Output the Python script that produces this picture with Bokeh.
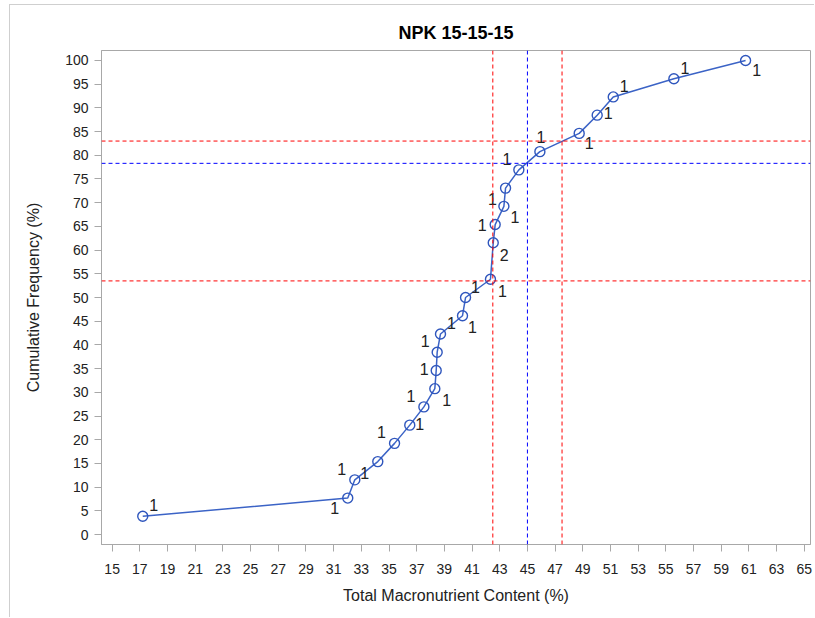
from bokeh.plotting import figure
from bokeh.models import ColumnDataSource, Range1d, FixedTicker, Span, Title
from bokeh.embed import file_html
from bokeh.resources import INLINE
from bokeh.core.properties import value
import numpy as np

# Total macronutrient content (%) of each distinct sample value, and how many samples had it
content = [17.21, 32.02, 32.53, 34.19, 35.40, 36.50, 37.52, 38.31, 38.41, 38.48,
           38.72, 40.31, 40.53, 42.33, 42.53, 42.67, 43.30, 43.42, 44.38, 45.90,
           48.74, 50.04, 51.20, 55.58, 60.76]
counts = [1, 1, 1, 1, 1, 1, 1, 1, 1, 1,
          1, 1, 1, 1, 2, 1, 1, 1, 1, 1,
          1, 1, 1, 1, 1]

# Reference lines
vlines_red = [42.5, 47.5]
vline_blue = [45.0]
hlines_red = [53.5, 83.0]
hline_blue = [78.3]

x_ticks = list(range(15, 66, 2))
y_ticks = list(range(0, 101, 5))

# Where each count label sits around its marker (pixels, right / down)
label_dx = [11, -13, -13, -13, -13, 10, -13, 12, -12, -12,
            11, 10, 10, 12, 11, -13, 11, -13, -12, 1,
            10, 11, 11, 11, 11]
label_dy = [-11, 10, -11, 11, -11, -1, -11, 11, -1, -11,
            -11, 11, -11, 12, 12, 0, 11, 11, -11, -15,
            10, -2, -11, -11, 10]

cum_pct = np.cumsum(counts) / np.sum(counts) * 100.0

src = ColumnDataSource(dict(
    x=content, y=cum_pct, n=[str(c) for c in counts],
    dx=label_dx, dy=label_dy,
))

FONT = "Liberation Sans"
GRID_GREY = "#a8a8a8"

# Canvas sits 10px in from the left and 5px down, framed by a light border
p = figure(width=805, height=613, output_backend="svg", toolbar_location=None,
           x_range=Range1d(14.23, 65.45), y_range=Range1d(-2.1, 102.1),
           min_border_left=91, min_border_right=5, min_border_top=45,
           min_border_bottom=74, title=None)
p.styles = {"margin-left": "9px", "margin-top": "4px",
            "border-left": "1px solid #cfcfcf", "border-top": "1px solid #cfcfcf"}
p.background_fill_color = "white"
p.border_fill_color = "white"
p.outline_line_color = GRID_GREY
p.outline_line_width = 1
p.xgrid.visible = False
p.ygrid.visible = False

p.add_layout(Title(text="NPK 15-15-15", align="center", text_font=FONT,
                   text_font_size="18px", text_font_style="bold",
                   text_color="#000000", standoff=15), "above")

for ax, ticks in ((p.xaxis[0], x_ticks), (p.yaxis[0], y_ticks)):
    ax.ticker = FixedTicker(ticks=ticks)
    ax.minor_tick_line_color = None
    ax.major_tick_in = 0
    ax.major_tick_out = 7
    ax.major_tick_line_color = GRID_GREY
    ax.axis_line_color = GRID_GREY
    ax.major_label_text_font = FONT
    ax.major_label_text_font_size = "14px"
    ax.major_label_text_color = "#222222"
    ax.axis_label_text_font = FONT
    ax.axis_label_text_font_size = "16px"
    ax.axis_label_text_font_style = "normal"
    ax.axis_label_text_color = "#222222"

p.xaxis.axis_label = "Total Macronutrient Content (%)"
p.yaxis.axis_label = "Cumulative Frequency (%)"
p.xaxis.major_label_standoff = 12
p.xaxis.axis_label_standoff = 10
p.yaxis.major_label_standoff = 6
p.yaxis.axis_label_standoff = 20

# Reference lines
for v in vlines_red:
    p.add_layout(Span(location=v, dimension="height", line_color="#ff0000",
                      line_dash="4 3", line_width=1))
for v in vline_blue:
    p.add_layout(Span(location=v, dimension="height", line_color="#0000ff",
                      line_dash="4 3", line_width=1))
for h in hlines_red:
    p.add_layout(Span(location=h, dimension="width", line_color="#ff0000",
                      line_dash="4 3", line_width=1))
for h in hline_blue:
    p.add_layout(Span(location=h, dimension="width", line_color="#0000ff",
                      line_dash="4 3", line_width=1))

# Cumulative curve
p.line("x", "y", source=src, line_color="#3b63c6", line_width=1.5)
p.scatter("x", "y", source=src, marker="circle", size=10, fill_color=None,
          line_color="#2f56bd", line_width=1.4)
p.text("x", "y", text="n", source=src, x_offset="dx", y_offset="dy",
       text_font=value(FONT), text_font_size="16px", text_color="#222222",
       text_align="center", text_baseline="middle")

open("out.html", "w").write(file_html(p, INLINE))
